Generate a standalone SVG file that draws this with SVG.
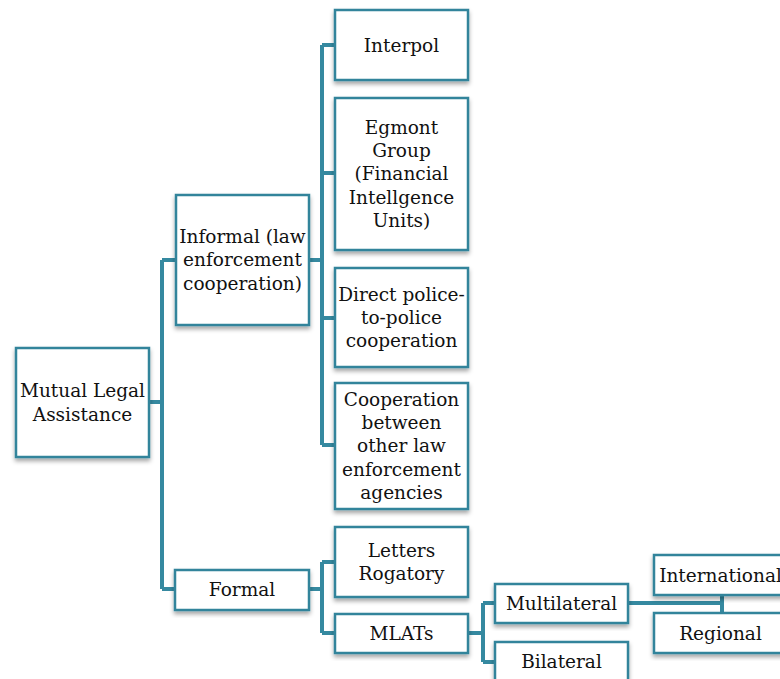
<svg xmlns="http://www.w3.org/2000/svg" width="780" height="679" viewBox="0 0 780 679">
<defs>
<filter id="sh" x="-10%" y="-10%" width="120%" height="130%">
<feDropShadow dx="0" dy="3" stdDeviation="2" flood-color="#000" flood-opacity="0.35"/>
</filter>
<style>
.box{fill:#fff;stroke:#31849b;stroke-width:2.5;filter:url(#sh)}
.t{font-family:"DejaVu Serif","Liberation Serif",serif;font-size:18.5px;fill:#111;text-anchor:middle;dominant-baseline:central}
.c{fill:none;stroke:#3589a0;stroke-width:4;stroke-linejoin:miter}
</style>
</defs>
<rect width="780" height="679" fill="#fff"/>
<g id="connectors">
<path class="c" d="M149,402 H162 M162,260 V589 M162,260 H176 M162,589 H175"/>
<path class="c" d="M309,260 H322 M322,45 V445 M322,45 H335 M322,173 H335 M322,318 H335 M322,445 H335"/>
<path class="c" d="M309,589 H322 M322,562 V633 M322,562 H335 M322,633 H335"/>
<path class="c" d="M468,633 H483 M483,603 V662 M483,603 H495 M483,662 H495"/>
<path class="c" d="M628,603 H722 M722,575 V633 M722,575 H654 M722,633 H654"/>
</g>
<g id="n-mla"><rect class="box" x="16" y="348" width="133" height="109"/>
<text class="t" x="82.5" y="390">Mutual Legal</text><text class="t" x="82.5" y="414">Assistance</text></g>
<g id="n-informal"><rect class="box" x="176" y="195" width="133" height="130"/>
<text class="t" x="242.5" y="236">Informal (law</text><text class="t" x="242.5" y="259.5">enforcement</text><text class="t" x="242.5" y="283">cooperation)</text></g>
<g id="n-interpol"><rect class="box" x="335" y="10" width="133" height="70"/>
<text class="t" x="401.5" y="45">Interpol</text></g>
<g id="n-egmont"><rect class="box" x="335" y="98" width="133" height="152"/>
<text class="t" x="401.5" y="127">Egmont</text><text class="t" x="401.5" y="150">Group</text><text class="t" x="401.5" y="173.5">(Financial</text><text class="t" x="401.5" y="197">Intellgence</text><text class="t" x="401.5" y="220">Units)</text></g>
<g id="n-direct"><rect class="box" x="335" y="268" width="133" height="99"/>
<text class="t" x="401.5" y="294">Direct police-</text><text class="t" x="401.5" y="317">to-police</text><text class="t" x="401.5" y="340">cooperation</text></g>
<g id="n-coop"><rect class="box" x="335" y="383" width="133" height="126"/>
<text class="t" x="401.5" y="399">Cooperation</text><text class="t" x="401.5" y="422">between</text><text class="t" x="401.5" y="445.5">other law</text><text class="t" x="401.5" y="469">enforcement</text><text class="t" x="401.5" y="492">agencies</text></g>
<g id="n-formal"><rect class="box" x="175" y="570" width="134" height="40"/>
<text class="t" x="242" y="589">Formal</text></g>
<g id="n-letters"><rect class="box" x="335" y="527" width="133" height="70"/>
<text class="t" x="401.5" y="550">Letters</text><text class="t" x="401.5" y="573">Rogatory</text></g>
<g id="n-mlats"><rect class="box" x="335" y="614" width="133" height="39"/>
<text class="t" x="401.5" y="633">MLATs</text></g>
<g id="n-multilateral"><rect class="box" x="495" y="584" width="133" height="39"/>
<text class="t" x="561.5" y="603">Multilateral</text></g>
<g id="n-bilateral"><rect class="box" x="495" y="642" width="133" height="40"/>
<text class="t" x="561.5" y="661">Bilateral</text></g>
<g id="n-international"><rect class="box" x="654" y="555" width="133" height="40"/>
<text class="t" x="720.5" y="575">International</text></g>
<g id="n-regional"><rect class="box" x="654" y="613" width="133" height="40"/>
<text class="t" x="720.5" y="633">Regional</text></g>
</svg>
